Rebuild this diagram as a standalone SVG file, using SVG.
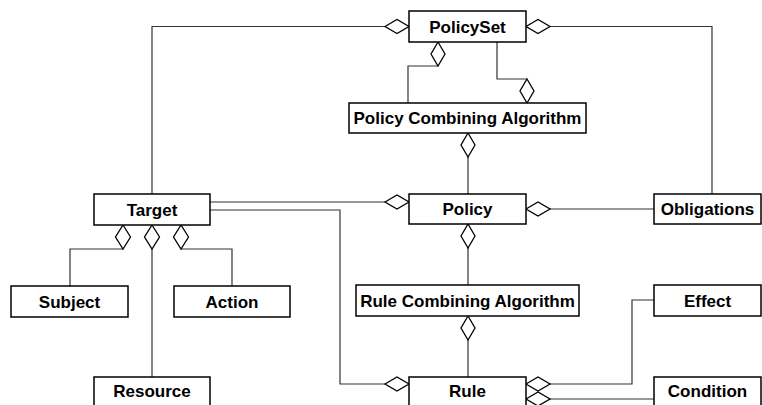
<svg xmlns="http://www.w3.org/2000/svg" width="762" height="405" viewBox="0 0 762 405">
<style>
.box{fill:#fff;stroke:#000;stroke-width:1.5}
.lbl{font-family:"Liberation Sans",Arial,sans-serif;font-weight:bold;font-size:17px;text-anchor:middle;fill:#000}
.ln{fill:none;stroke:#333;stroke-width:1.2}
.dm{fill:#fff;stroke:#000;stroke-width:1.3}
</style>
<rect width="762" height="405" fill="#fff"/>
<g id="connectors">
<path class="ln" d="M385 26.5H152V194"/>
<path class="ln" d="M550 26.5H712V194"/>
<path class="ln" d="M438 66H408V103"/>
<path class="ln" d="M497 42V79H527"/>
<path class="ln" d="M468 157V194"/>
<path class="ln" d="M210 202H385"/>
<path class="ln" d="M550 209H654"/>
<path class="ln" d="M468 248V285"/>
<path class="ln" d="M468 340V377"/>
<path class="ln" d="M210 210H340V384H385"/>
<path class="ln" d="M550 384H632V300H654"/>
<path class="ln" d="M550 399H654"/>
<path class="ln" d="M123 249H70V286"/>
<path class="ln" d="M152 249V377"/>
<path class="ln" d="M181 249H232V286"/>
<path class="dm" d="M385 26.5L397 19.5L409 26.5L397 33.5Z"/>
<path class="dm" d="M526 26.5L538 19.5L550 26.5L538 33.5Z"/>
<path class="dm" d="M438 42L445 54L438 66L431 54Z"/>
<path class="dm" d="M527 79L534 91L527 103L520 91Z"/>
<path class="dm" d="M468 133L475 145L468 157L461 145Z"/>
<path class="dm" d="M385 202L397 195L409 202L397 209Z"/>
<path class="dm" d="M526 209L538 202L550 209L538 216Z"/>
<path class="dm" d="M468 224L475 236L468 248L461 236Z"/>
<path class="dm" d="M468 316L475 328L468 340L461 328Z"/>
<path class="dm" d="M385 384L397 377L409 384L397 391Z"/>
<path class="dm" d="M526 384L538 377L550 384L538 391Z"/>
<path class="dm" d="M526 399L538 392L550 399L538 406Z"/>
<path class="dm" d="M123 225L130.5 237L123 249L115.5 237Z"/>
<path class="dm" d="M152 225L159.5 237L152 249L144.5 237Z"/>
<path class="dm" d="M181 225L188.5 237L181 249L173.5 237Z"/>
</g>
<g id="PolicySet"><rect class="box" x="409" y="11" width="117" height="31"/><text class="lbl" x="467.5" y="32.5">PolicySet</text></g>
<g id="PolicyCombiningAlgorithm"><rect class="box" x="349" y="103" width="237" height="30"/><text class="lbl" x="467.5" y="124">Policy Combining Algorithm</text></g>
<g id="Target"><rect class="box" x="94" y="194" width="116" height="31"/><text class="lbl" x="152" y="215.5">Target</text></g>
<g id="Policy"><rect class="box" x="409" y="194" width="117" height="30"/><text class="lbl" x="467.5" y="215">Policy</text></g>
<g id="Obligations"><rect class="box" x="654" y="194" width="107" height="30"/><text class="lbl" x="707.5" y="215">Obligations</text></g>
<g id="Subject"><rect class="box" x="11" y="286" width="117" height="31"/><text class="lbl" x="69.5" y="307.5">Subject</text></g>
<g id="Action"><rect class="box" x="174" y="286" width="116" height="31"/><text class="lbl" x="232" y="307.5">Action</text></g>
<g id="RuleCombiningAlgorithm"><rect class="box" x="356" y="285" width="223" height="31"/><text class="lbl" x="467.5" y="306.5">Rule Combining Algorithm</text></g>
<g id="Effect"><rect class="box" x="654" y="285" width="107" height="31"/><text class="lbl" x="707.5" y="306.5">Effect</text></g>
<g id="Resource"><rect class="box" x="94" y="377" width="116" height="40"/><text class="lbl" x="152" y="397">Resource</text></g>
<g id="Rule"><rect class="box" x="409" y="377" width="117" height="40"/><text class="lbl" x="467.5" y="397">Rule</text></g>
<g id="Condition"><rect class="box" x="654" y="377" width="107" height="40"/><text class="lbl" x="707.5" y="397">Condition</text></g>
</svg>
